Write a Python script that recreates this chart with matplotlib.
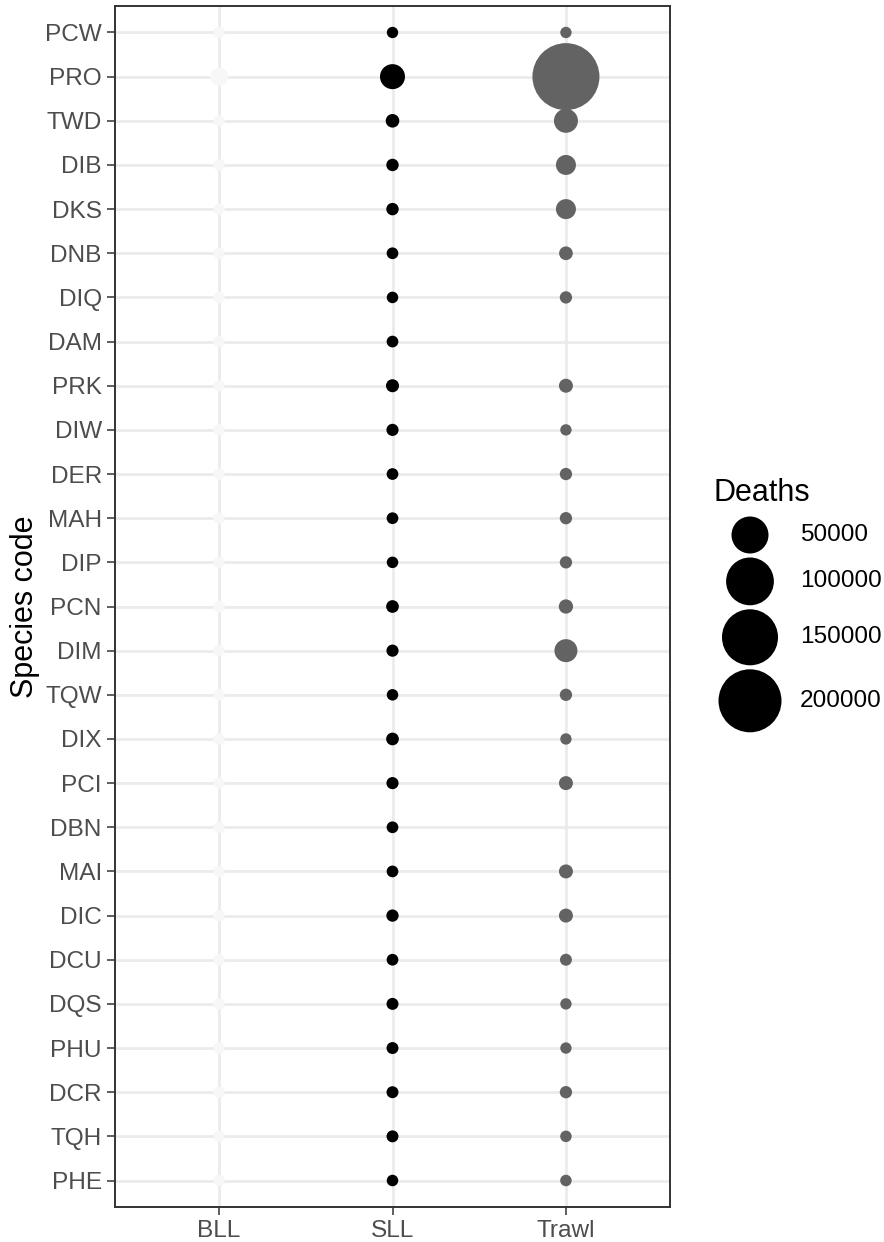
import matplotlib
matplotlib.use("Agg")
import matplotlib.pyplot as plt
import numpy as np

plt.rcParams['font.family'] = ['Liberation Sans', 'DejaVu Sans']

# Data: estimated deaths per species code and gear
species = ['PCW', 'PRO', 'TWD', 'DIB', 'DKS', 'DNB', 'DIQ', 'DAM', 'PRK',
           'DIW', 'DER', 'MAH', 'DIP', 'PCN', 'DIM', 'TQW', 'DIX', 'PCI',
           'DBN', 'MAI', 'DIC', 'DCU', 'DQS', 'PHU', 'DCR', 'TQH', 'PHE']
gears = ['BLL', 'SLL', 'Trawl']

bll = [10, 3600, 10, 10, 10, 10, 10, 10, 10,
       10, 10, 10, 10, 20, 10, 10, 10, 10,
       10, 10, 10, 10, 10, 10, 10, 10, 10]
sll = [10, 14500, 500, 150, 150, 40, 20, 40, 300,
       100, 40, 40, 20, 215, 100, 20, 215, 100,
       40, 40, 125, 40, 70, 70, 70, 70, 20]
trawl = [10, 232000, 12500, 6000, 6000, 540, 125, None, 665,
         10, 125, 125, 125, 800, 10650, 125, 10, 665,
         None, 665, 665, 70, 10, 10, 125, 20, 20]

gear_colors = ['#F7F7F7', '#000000', '#636363']
legend_values = [50000, 100000, 150000, 200000]

DPI = 200


def diam_px(v):
    # area-like size scale, diameter in pixels
    return 11 + 26 * np.sqrt(np.asarray(v, dtype=float) / 50000)


def area_pt2(v):
    return (diam_px(v) * 72 / DPI) ** 2


fig = plt.figure(figsize=(884 / DPI, 1242 / DPI), dpi=DPI)
ax = fig.add_axes([115 / 884, 1 - 1207 / 1242, (670 - 115) / 884, (1207 - 6) / 1242])

for gi, (vals, col) in enumerate(zip([bll, sll, trawl], gear_colors)):
    ys = [i for i, v in enumerate(vals) if v is not None]
    vs = [v for v in vals if v is not None]
    ax.scatter([gi] * len(ys), ys, s=area_pt2(vs), color=col,
               edgecolors='none', zorder=3)

ax.set_xlim(-0.6, 2.6)
ax.set_ylim(len(species) - 1 + 0.6, -0.6)
ax.set_xticks(range(len(gears)))
ax.set_xticklabels(gears)
ax.set_yticks(range(len(species)))
ax.set_yticklabels(species)
ax.grid(True, color='#EBEBEB', linewidth=1.0, zorder=0)
ax.set_axisbelow(True)
ax.tick_params(colors='#333333', labelcolor='#4D4D4D', labelsize=8.8,
               length=2.75, width=0.55, pad=2)
for sp in ax.spines.values():
    sp.set_color('#333333')
    sp.set_linewidth(0.7)
ax.set_ylabel('Species code', fontsize=11, labelpad=2)

# Legend drawn by hand in pixel coordinates
lax = fig.add_axes([0, 0, 1, 1])
lax.set_xlim(0, 884)
lax.set_ylim(1242, 0)
lax.axis('off')
lax.text(713, 493, 'Deaths', fontsize=11, ha='left', va='center')
ds = diam_px(legend_values)
y = 535.0
for i, v in enumerate(legend_values):
    if i > 0:
        y += (ds[i - 1] + ds[i]) / 2 + 4
    lax.scatter([750], [y], s=area_pt2(v), color='black', edgecolors='none')
    lax.text(800, y, str(v), fontsize=8.8, ha='left', va='center')

fig.savefig('out.png', dpi=DPI)
